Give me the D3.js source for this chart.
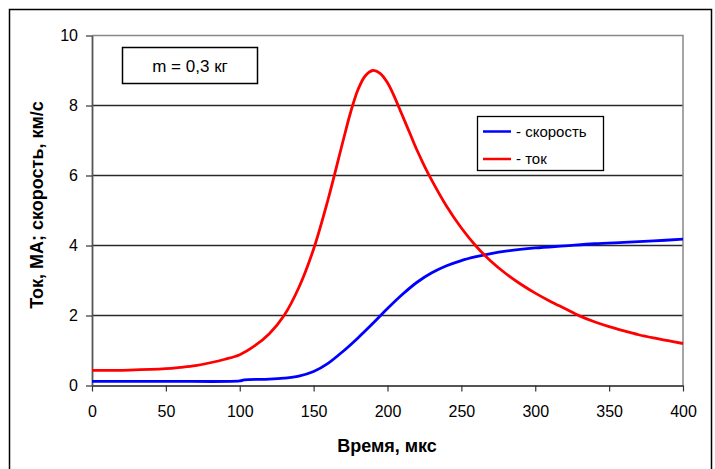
<!DOCTYPE html>
<html>
<head>
<meta charset="utf-8">
<script src="https://cdn.jsdelivr.net/npm/d3@7"></script>
<style>
  body { margin: 0; background: #fff; }
  text { font-family: "Liberation Sans", Arial, sans-serif; }
</style>
</head>
<body>
<div class="chart"></div>
<script>
var svgWidth = 715;
var svgHeight = 469;

var margin = { top: 35.5, right: 32, bottom: 83.5, left: 92 };
var width = 683 - margin.left;
var height = 385.5 - margin.top;

// current, MA
var currentTime = [0, 25, 50, 60, 70, 80, 90, 100, 110, 120, 130, 140, 150, 160, 170, 175, 180, 185, 190, 195, 200, 205, 210, 215, 220, 225, 230, 240, 250, 260, 270, 280, 290, 300, 310, 320, 330, 340, 350, 360, 370, 380, 390, 400];
var currentValues = [0.43, 0.44, 0.48, 0.52, 0.57, 0.65, 0.75, 0.88, 1.13, 1.48, 2.0, 2.8, 3.9, 5.35, 7.0, 7.8, 8.45, 8.85, 9.0, 8.92, 8.65, 8.22, 7.72, 7.22, 6.72, 6.27, 5.86, 5.12, 4.5, 3.98, 3.55, 3.2, 2.9, 2.64, 2.41, 2.2, 1.99, 1.82, 1.68, 1.56, 1.45, 1.36, 1.28, 1.2];

// velocity, km/s
var speedTime = [0, 50, 100, 103, 120, 130, 140, 150, 160, 170, 180, 190, 200, 210, 220, 230, 240, 250, 260, 270, 280, 300, 320, 340, 360, 380, 400];
var speedValues = [0.12, 0.12, 0.13, 0.16, 0.18, 0.21, 0.27, 0.4, 0.64, 0.98, 1.36, 1.77, 2.2, 2.6, 2.95, 3.22, 3.42, 3.57, 3.68, 3.77, 3.84, 3.93, 3.99, 4.05, 4.09, 4.13, 4.18];

var xTicks = [0, 50, 100, 150, 200, 250, 300, 350, 400];
var yTicks = [0, 2, 4, 6, 8, 10];

var svg = d3.select(".chart")
  .append("svg")
  .attr("width", svgWidth)
  .attr("height", svgHeight);

// outer frame
svg.append("rect")
  .attr("x", 9.5).attr("y", 9.5)
  .attr("width", 702).attr("height", 480)
  .attr("fill", "none")
  .attr("stroke", "#000")
  .attr("stroke-width", 1.5);

var chartGroup = svg.append("g")
  .attr("transform", `translate(${margin.left}, ${margin.top})`);

var xScale = d3.scaleLinear().domain([0, 400]).range([0, width]);
var yScale = d3.scaleLinear().domain([0, 10]).range([height, 0]);

// gridlines
chartGroup.selectAll(".grid")
  .data(yTicks.filter(d => d > 0 && d < 10))
  .enter()
  .append("line")
  .attr("x1", 0).attr("x2", width)
  .attr("y1", d => yScale(d)).attr("y2", d => yScale(d))
  .attr("stroke", "#2a2a2a")
  .attr("stroke-width", 1.4);

// top and right edge of plot area
chartGroup.append("path")
  .attr("d", `M0,0H${width}V${height}`)
  .attr("fill", "none")
  .attr("stroke", "#888")
  .attr("stroke-width", 1.5);

// axes
var bottomAxis = d3.axisBottom(xScale).tickValues(xTicks).tickSize(6).tickPadding(14).tickSizeOuter(0);
var leftAxis = d3.axisLeft(yScale).tickValues(yTicks).tickSize(6).tickPadding(8).tickSizeOuter(0);

var xAxis = chartGroup.append("g")
  .attr("transform", `translate(0, ${height})`)
  .call(bottomAxis);

var yAxis = chartGroup.append("g").call(leftAxis);

[xAxis, yAxis].forEach(function(ax) {
  ax.select(".domain").attr("stroke", "#555").attr("stroke-width", 1.8);
  ax.selectAll(".tick line").attr("stroke", "#333").attr("stroke-width", 1.2);
  ax.selectAll(".tick text")
    .attr("fill", "#000")
    .style("font-size", "16px")
    .style("font-family", "'Liberation Sans', Arial, sans-serif");
});

// lines
var line = d3.line()
  .x(d => xScale(d[0]))
  .y(d => yScale(d[1]))
  .curve(d3.curveCatmullRom.alpha(0.5));

chartGroup.append("path")
  .datum(speedTime.map((t, i) => [t, speedValues[i]]))
  .attr("d", line)
  .attr("fill", "none")
  .attr("stroke", "#0000ff")
  .attr("stroke-width", 2.8);

chartGroup.append("path")
  .datum(currentTime.map((t, i) => [t, currentValues[i]]))
  .attr("d", line)
  .attr("fill", "none")
  .attr("stroke", "#ff0000")
  .attr("stroke-width", 2.8);

// annotation box
svg.append("rect")
  .attr("x", 122.5).attr("y", 47.5)
  .attr("width", 135).attr("height", 36)
  .attr("fill", "#fff")
  .attr("stroke", "#000")
  .attr("stroke-width", 1.5);

svg.append("text")
  .attr("x", 190).attr("y", 72)
  .attr("text-anchor", "middle")
  .style("font-size", "17px")
  .text("m = 0,3 кг");

// legend
var legend = svg.append("g");
legend.append("rect")
  .attr("x", 477.5).attr("y", 116.5)
  .attr("width", 126).attr("height", 54)
  .attr("fill", "#fff")
  .attr("stroke", "#000")
  .attr("stroke-width", 1.3);

var legendItems = [["- скорость", "#0000ff", 131.5], ["- ток", "#ff0000", 159]];
legendItems.forEach(function(item) {
  legend.append("line")
    .attr("x1", 483).attr("x2", 511)
    .attr("y1", item[2]).attr("y2", item[2])
    .attr("stroke", item[1])
    .attr("stroke-width", 2.5);
  legend.append("text")
    .attr("x", 516).attr("y", item[2] + 5)
    .style("font-size", "15px")
    .text(item[0]);
});

// axis titles
svg.append("text")
  .attr("x", 387).attr("y", 452)
  .attr("text-anchor", "middle")
  .style("font-size", "18px")
  .style("font-weight", "bold")
  .text("Время, мкс");

svg.append("text")
  .attr("transform", "translate(43, 205) rotate(-90)")
  .attr("text-anchor", "middle")
  .style("font-size", "18px")
  .style("font-weight", "bold")
  .text("Ток, МА; скорость, км/с");
</script>
</body>
</html>
